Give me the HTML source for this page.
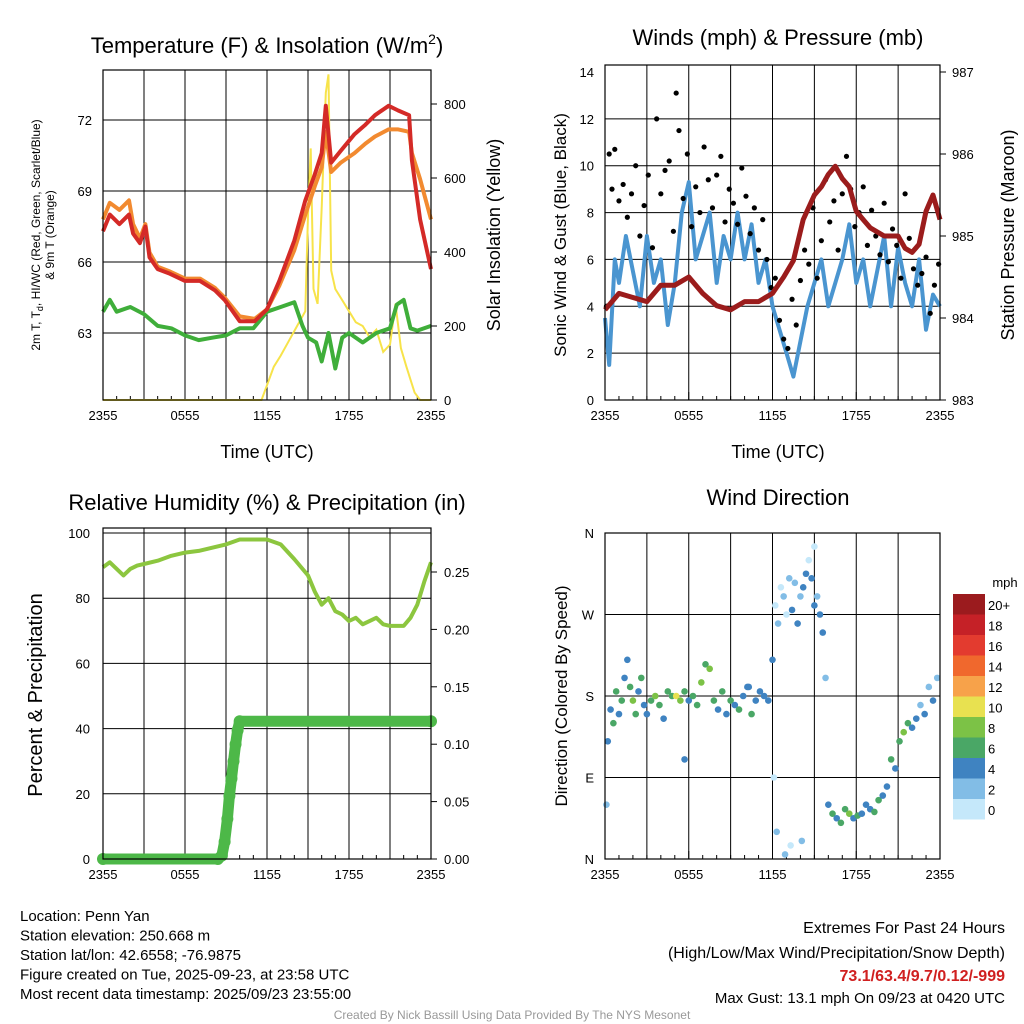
<!DOCTYPE html>
<html><head><meta charset="utf-8"><style>
html,body{margin:0;padding:0;background:#fff}
svg{display:block;font-family:"Liberation Sans",sans-serif}
</style></head><body>
<svg id="s" width="1024" height="1024" viewBox="0 0 1024 1024"></svg>
<script>
// ---- Panel 1 data ----
const tHours=[0,0.5,1.2,1.9,2.2,2.7,3.1,3.4,4.0,4.9,6.0,7.1,8.2,8.9,10.0,11.1,12.0,12.9,14.0,14.8,15.5,16.0,16.3,16.7,17.4,18.4,19.2,19.9,20.9,21.6,22.4,22.6,23.2,24];
const tempRed=[67.3,68.0,67.6,68.0,67.2,66.8,67.5,66.2,65.7,65.5,65.2,65.2,64.8,64.4,63.5,63.5,64.0,65.2,66.9,68.6,69.7,70.6,72.6,70.2,70.7,71.4,71.8,72.2,72.6,72.4,72.2,70.3,67.8,65.7];
const temp9m=[67.8,68.5,68.2,68.6,67.6,67.0,67.6,66.4,65.8,65.6,65.3,65.3,64.9,64.5,63.7,63.6,64.0,65.0,66.5,68.0,69.2,70.0,71.5,69.8,70.2,70.6,71.0,71.3,71.6,71.6,71.5,70.6,69.5,67.8];
const dpHours=[0,0.5,1,2,3,4,5,6,7,8,9,10,11,12,13,14,14.6,15,15.6,16,16.5,17,17.5,18,19,20,21,21.5,22,22.5,23,24];
const dewpoint=[63.9,64.4,63.9,64.1,63.8,63.3,63.2,62.9,62.7,62.8,62.9,63.2,63.2,63.9,64.1,64.3,63.3,62.8,62.6,61.8,63.0,61.5,62.8,63.0,62.6,63.0,63.2,64.2,64.4,63.2,63.1,63.3];
const solHours=[0,11.6,12.0,12.5,13.0,13.6,14.2,14.8,15.0,15.2,15.4,15.7,16.0,16.3,16.5,16.7,17.0,17.5,18.0,18.5,19,19.5,20,20.5,21,21.4,21.8,22.2,22.8,23.2,24];
const solar=[0,0,40,90,120,160,200,240,500,680,300,260,520,830,880,350,300,270,240,210,200,170,190,130,150,260,140,90,20,0,0];
const p1LeftTicks=[63,66,69,72];
const p1RightTicks=[0,200,400,600,800];
const timeLabels=["2355","0555","1155","1755","2355"];
// ---- Panel 2 data ----
const windHours=[0,0.3,0.7,1,1.5,2,2.5,3,3.5,4,4.5,5,5.5,6,6.5,7,7.5,8,8.5,9,9.5,10,10.5,11,11.5,12,12.5,13,13.5,14,14.5,15,15.5,16,16.5,17,17.5,18,18.5,19,19.5,20,20.5,21,21.5,22,22.5,23,23.5,24];
const windSpeed=[3.5,1.5,6,5,7,5.5,4,7,5,6,3.2,5,8,9.3,6,7,8,5,7,6,8,6,7.5,5,6,4,3,2,1,2.5,4,5,6,4,5,6,7.5,5,6,4,5.5,7,4,6.5,5,4,6,3,4.5,4];
const gustHours=[0.1,0.3,0.5,0.7,1.0,1.3,1.6,1.9,2.2,2.5,2.8,3.1,3.4,3.7,4.0,4.3,4.6,4.9,5.1,5.3,5.6,5.9,6.2,6.5,6.8,7.1,7.4,7.7,8.0,8.3,8.6,8.9,9.2,9.5,9.8,10.1,10.4,10.7,11.0,11.3,11.6,11.9,12.2,12.5,12.8,13.1,13.4,13.7,14.0,14.3,14.6,14.9,15.2,15.5,15.8,16.1,16.4,16.7,17.0,17.3,17.6,17.9,18.2,18.5,18.8,19.1,19.4,19.7,20.0,20.3,20.6,20.9,21.2,21.5,21.8,22.1,22.4,22.7,23.0,23.3,23.6,23.9];
const gustSpeed=[4,10.5,9,10.7,8.5,9.2,7.8,8.8,10,7,8.3,9.6,6.5,12,8.8,9.8,10.2,7.2,13.1,11.5,8.6,10.5,7.4,9.1,8.0,10.8,9.4,8.2,9.6,10.4,7.6,9.0,8.4,7.5,9.9,8.7,7.1,8.2,6.4,7.7,6.0,4.8,5.2,3.4,2.6,2.2,4.3,3.2,5.1,6.4,5.8,8.2,5.2,6.8,9.4,7.6,8.5,6.4,8.8,10.4,9.0,7.4,8.0,9.1,6.6,8.1,7.0,6.2,8.4,5.9,7.3,6.6,5.2,8.8,6.9,5.6,4.9,5.4,6.1,3.7,4.9,5.8];
const presHours=[0,0.5,1,2,3,4,5,6,7,8,9,10,11,12,12.8,13.5,14.2,15,15.5,16,16.5,17,17.5,18,18.5,19,20,21,21.5,22,22.5,23,23.5,24];
const pressure=[984.1,984.2,984.3,984.25,984.2,984.4,984.4,984.5,984.3,984.15,984.1,984.2,984.2,984.3,984.5,984.7,985.2,985.5,985.6,985.75,985.85,985.7,985.6,985.3,985.2,985.1,985.0,985.0,984.85,984.8,984.9,985.3,985.5,985.2];
const p2LeftTicks=[0,2,4,6,8,10,12,14];
const p2RightTicks=[983,984,985,986,987];
// ---- Panel 3 data ----
const rhHours=[0,0.5,1,1.5,2,2.5,3,4,5,6,7,8,9,10,11,12,13,14,15,15.5,16,16.5,17,17.5,18,18.5,19,20,20.5,21,22,22.5,23,23.5,24];
const rh=[89.5,91,89,87,89,90,90.5,91.5,93,94,94.5,95.5,96.5,98,98,98,96.5,92,87,82,78,80,76,75,73,74,72,74,72,71.5,71.5,74,78,85,91];
const precipHours=[0,8.4,8.7,8.9,9.1,9.25,9.4,9.55,9.7,9.85,10.0,24];
const precip=[0,0,0.003,0.015,0.035,0.055,0.07,0.085,0.1,0.112,0.12,0.12];
const p3LeftTicks=[0,20,40,60,80,100];
const p3RightTicks=["0.00","0.05","0.10","0.15","0.20","0.25"];
// ---- Panel 4 data ----
const dirHours=[0.1,0.2,0.4,0.6,0.8,1.0,1.2,1.4,1.6,1.8,2.0,2.2,2.4,2.6,2.8,3.0,3.3,3.6,3.9,4.2,4.5,4.8,5.1,5.4,5.7,6.0,6.3,6.6,6.9,7.2,7.5,7.8,8.1,8.4,8.7,9.0,9.3,9.6,9.9,10.2,10.5,10.8,11.1,11.4,11.7,12.0,12.2,12.4,12.6,12.8,13.0,13.2,13.4,13.6,13.8,14.0,14.2,14.4,14.6,14.8,15.0,15.2,15.4,15.6,15.8,16.0,16.3,16.6,16.9,17.2,17.5,17.8,18.1,18.4,18.7,19.0,19.3,19.6,19.9,20.2,20.5,20.8,21.1,21.4,21.7,22.0,22.3,22.6,22.9,23.2,23.5,23.8,12.1,12.3,12.9,13.3,14.1,15.0,5.7,10.3];
const direction=[60,130,165,150,185,160,175,200,220,190,175,160,185,200,170,160,175,180,170,155,185,180,180,175,185,175,180,170,195,215,210,175,165,185,160,175,170,165,180,190,160,175,185,180,175,220,280,260,300,290,270,310,275,305,260,290,300,315,330,310,280,290,270,250,200,60,50,45,40,55,50,45,48,50,60,55,52,65,70,80,110,100,130,140,150,145,155,170,160,190,175,200,90,30,5,15,20,345,110,190];
const dirSpeed=[2,4,4,6,6,4,6,4,4,6,8,6,4,6,4,4,6,8,6,4,6,6,10,8,6,4,6,6,8,6,8,6,4,6,4,6,4,6,4,4,6,4,4,4,4,4,1,2,1,2,1,2,4,2,4,2,4,4,1,4,4,2,4,4,2,4,6,4,6,6,8,4,6,4,4,4,6,6,4,4,6,4,6,8,6,4,4,2,4,2,4,2,1,2,2,1,2,1,4,4];
const cbLabels=["20+","18","16","14","12","10","8","6","4","2","0"];
const cbColors=["#9b1b1e","#c52127","#e33b2f","#f0682d","#f7a24a","#e8e150","#7cc246","#4aa766","#3f83c1","#82bde6","#c5e8fa"];

const NS="http://www.w3.org/2000/svg";
const svg=document.getElementById('s');
function mk(tag,attrs,parent){const e=document.createElementNS(NS,tag);for(const k in attrs)e.setAttribute(k,attrs[k]);(parent||svg).appendChild(e);return e;}
function txt(s,x,y,size,anchor,parent,extra){const e=mk('text',Object.assign({x:x,y:y,'font-size':size,'text-anchor':anchor||'middle',fill:'#000'},extra||{}),parent);e.textContent=s;return e;}
function pathD(xs,ys){return xs.map((x,i)=>(i?'L':'M')+x.toFixed(1)+' '+ys[i].toFixed(1)).join(' ');}

// scales
const p1x=h=>103+h*328/24, p1yT=f=>333-(f-63)*23.67, p1yS=w=>400-w*0.37;
const p2x=h=>605+h*335/24, p2yW=v=>400-v*328/14, p2yP=p=>400-(p-983)*82;
const p3x=h=>103+h*328/24, p3yR=v=>859-v*3.26, p3yP=v=>859-v*1148;
const p4x=h=>605+h*335/24, p4yD=d=>859-d*326/360;
function colorFor(s){const i=Math.min(10,Math.floor(s/2));return cbColors[10-i];}

function frame(x0,y0,x1,y1,name){
  const g=mk('g',{});
  
  
  for(let k=1;k<8;k++){const x=x0+(x1-x0)*k/8;mk('line',{x1:x,y1:y0,x2:x,y2:y1,stroke:'#000','stroke-width':1},g);}
  for(let k=0;k<=4;k++){const x=x0+(x1-x0)*k/4;txt(timeLabels[k],x,y1+20,13,'middle',g);
    for(let m=0;m<6;m++){const xx=x0+(x1-x0)*(k*6+m)/24;if(xx<=x1)mk('line',{x1:xx,y1:y1,x2:xx,y2:y1-(m?4:8),stroke:'#000'},g);}}
  return g;
}
function box(x0,y0,x1,y1){mk('rect',{x:x0,y:y0,width:x1-x0,height:y1-y0,fill:'none',stroke:'#000','stroke-width':1.2});}

// ===== Panel 1 =====
const g1=frame(103,70,431,400,'temperature-panel');
p1LeftTicks.forEach(t=>{const y=p1yT(t);mk('line',{x1:103,y1:y,x2:431,y2:y,stroke:'#000'},g1);txt(String(t),92,y+5,13,'end',g1);});
p1RightTicks.forEach(t=>{const y=p1yS(t);mk('line',{x1:431,y1:y,x2:437,y2:y,stroke:'#000'},g1);txt(String(t),444,y+5,13,'start',g1);});
const sol=mk('path',{d:pathD(solHours.map(p1x),solar.map(p1yS)),fill:'none',stroke:'#f7e34a','stroke-width':2});


const dp=mk('path',{d:pathD(dpHours.map(p1x),dewpoint.map(p1yT)),fill:'none',stroke:'#3fae3a','stroke-width':4,'stroke-linejoin':'round'});


const t9=mk('path',{d:pathD(tHours.map(p1x),temp9m.map(p1yT)),fill:'none',stroke:'#f28a30','stroke-width':4,'stroke-linejoin':'round'});


const t2=mk('path',{d:pathD(tHours.map(p1x),tempRed.map(p1yT)),fill:'none',stroke:'#d42a27','stroke-width':4,'stroke-linejoin':'round'});


box(103,70,431,400);
const tt1=mk('text',{x:267,y:53,'font-size':22,'text-anchor':'middle'});
tt1.innerHTML='Temperature (F) &amp; Insolation (W/m<tspan font-size="14" dy="-9">2</tspan><tspan dy="9">)</tspan>';


const xl1=txt('Time (UTC)',267,458,18);


const yl1=mk('text',{transform:'translate(40,235) rotate(-90)','font-size':12,'text-anchor':'middle'});
yl1.innerHTML='2m T, T<tspan font-size="9" dy="3">d</tspan><tspan dy="-3">, HI/WC (Red, Green, Scarlet/Blue)</tspan>';


const yl1b=mk('text',{transform:'translate(54,235) rotate(-90)','font-size':12,'text-anchor':'middle'});yl1b.textContent='& 9m T (Orange)';


const yr1=mk('text',{transform:'translate(500,235) rotate(-90)','font-size':18,'text-anchor':'middle'});yr1.textContent='Solar Insolation (Yellow)';



// ===== Panel 2 =====
const g2=frame(605,65,940,400,'wind-panel');
p2LeftTicks.forEach(t=>{const y=p2yW(t);if(t>0&&t<14)mk('line',{x1:605,y1:y,x2:940,y2:y,stroke:'#000'},g2);txt(String(t),594,y+5,13,'end',g2);});
p2RightTicks.forEach(t=>{const y=p2yP(t);mk('line',{x1:940,y1:y,x2:946,y2:y,stroke:'#000'},g2);txt(String(t),952,y+5,13,'start',g2);});
const ws=mk('path',{d:pathD(windHours.map(p2x),windSpeed.map(p2yW)),fill:'none',stroke:'#4a95d0','stroke-width':4,'stroke-linejoin':'round'});


gustHours.forEach((h,i)=>{const c=mk('circle',{cx:p2x(h),cy:p2yW(gustSpeed[i]),r:2.6,fill:'#000'});

});
const pr=mk('path',{d:pathD(presHours.map(p2x),pressure.map(p2yP)),fill:'none',stroke:'#9b1c1c','stroke-width':5,'stroke-linejoin':'round'});


box(605,65,940,400);
const tt2=txt('Winds (mph) & Pressure (mb)',778,45,22);


const xl2=txt('Time (UTC)',778,458,18);


const yl2=mk('text',{transform:'translate(566,235) rotate(-90)','font-size':17,'text-anchor':'middle'});yl2.textContent='Sonic Wind & Gust (Blue, Black)';


const yr2=mk('text',{transform:'translate(1014,235) rotate(-90)','font-size':18,'text-anchor':'middle'});yr2.textContent='Station Pressure (Maroon)';



// ===== Panel 3 =====
const g3=frame(103,528,431,859,'humidity-panel');
p3LeftTicks.forEach(t=>{const y=p3yR(t);if(t>0)mk('line',{x1:103,y1:y,x2:431,y2:y,stroke:'#000'},g3);txt(String(t),90,y+5,13,'end',g3);});
p3RightTicks.forEach(t=>{const y=p3yP(parseFloat(t));mk('line',{x1:431,y1:y,x2:437,y2:y,stroke:'#000'},g3);txt(t,444,y+5,13,'start',g3);});
const rhl=mk('path',{d:pathD(rhHours.map(p3x),rh.map(p3yR)),fill:'none',stroke:'#8cc63f','stroke-width':4,'stroke-linejoin':'round'});


const pl=mk('path',{d:pathD(precipHours.map(p3x),precip.map(p3yP)),fill:'none',stroke:'#4db848','stroke-width':11,'stroke-linejoin':'round','stroke-linecap':'round'});


precipHours.forEach((h,i)=>{const c=mk('circle',{cx:p3x(h),cy:p3yP(precip[i]),r:6,fill:'#4db848'});

});
box(103,528,431,859);
const tt3=txt('Relative Humidity (%) & Precipitation (in)',267,510,22);


const yl3=mk('text',{transform:'translate(42,695) rotate(-90)','font-size':20,'text-anchor':'middle'});yl3.textContent='Percent & Precipitation';



// ===== Panel 4 =====
const g4=frame(605,533,940,859,'wind-direction-panel');
["N","E","S","W","N"].forEach((l,k)=>{const y=p4yD(k*90);if(k>0&&k<4)mk('line',{x1:605,y1:y,x2:940,y2:y,stroke:'#000'},g4);txt(l,594,y+5,13,'end',g4);});
dirHours.forEach((h,i)=>{const c=mk('circle',{cx:p4x(h),cy:p4yD(direction[i]),r:3.3,fill:colorFor(dirSpeed[i])});

});
box(605,533,940,859);
const tt4=txt('Wind Direction',778,505,22);


const yl4=mk('text',{transform:'translate(567,696) rotate(-90)','font-size':17,'text-anchor':'middle'});yl4.textContent='Direction (Colored By Speed)';


// colorbar
const cb=mk('g',{});


txt('mph',1005,587,13,'middle',cb);
cbLabels.forEach((l,k)=>{const y=594+k*20.5;mk('rect',{x:953,y:y,width:32,height:20.5,fill:cbColors[k]},cb);txt(l,988,y+16,13,'start',cb);});

// ===== Footer =====
const ft=mk('g',{});


["Location: Penn Yan","Station elevation: 250.668 m","Station lat/lon: 42.6558; -76.9875","Figure created on Tue, 2025-09-23, at 23:58 UTC","Most recent data timestamp: 2025/09/23 23:55:00"].forEach((s,i)=>txt(s,20,921+i*19.5,15,'start',ft));
const ex=mk('g',{});


txt('Extremes For Past 24 Hours',1005,933,16,'end',ex);
txt('(High/Low/Max Wind/Precipitation/Snow Depth)',1005,958,16,'end',ex);
txt('73.1/63.4/9.7/0.12/-999',1005,981,16,'end',ex,{fill:'#d02020','font-weight':'bold'});
txt('Max Gust: 13.1 mph On 09/23 at 0420 UTC',1005,1003,15,'end',ex);
const cr=txt('Created By Nick Bassill Using Data Provided By The NYS Mesonet',512,1019,12,'middle',null,{fill:'#999'});


</script>
</body></html>
